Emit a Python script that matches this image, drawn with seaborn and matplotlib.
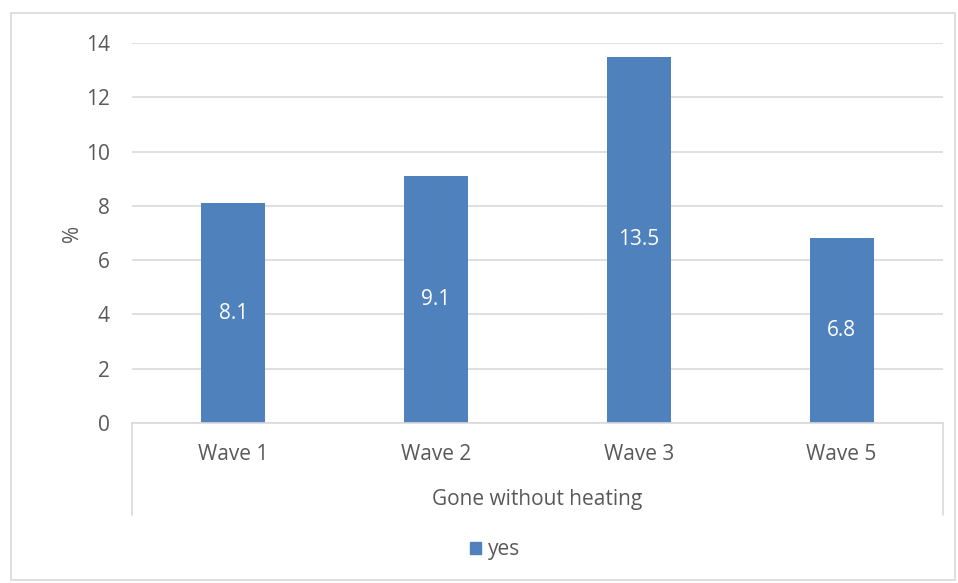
import matplotlib
matplotlib.use("Agg")
import matplotlib.pyplot as plt
import seaborn as sns
import pandas as pd
from matplotlib.patches import Rectangle
from matplotlib.lines import Line2D

categories = ["Wave 1", "Wave 2", "Wave 3", "Wave 5"]
values = [8.1, 9.1, 13.5, 6.8]
series_name = "yes"
group_label = "Gone without heating"
yticks = [0, 2, 4, 6, 8, 10, 12, 14]

sns.set_theme(style="white")
plt.rcParams['font.family'] = ['Open Sans', 'DejaVu Sans']

TXT = "#595959"
BLUE = "#4F81BD"
GRID = "#D9D9D9"
FS = 15

df = pd.DataFrame({"wave": categories, "pct": values})

fig = plt.figure(figsize=(9.58, 5.83), dpi=100)
ax = fig.add_axes([132/958, 1-423/583, (943-132)/958, (423-43)/583])

sns.barplot(data=df, x="wave", y="pct", color=BLUE, width=0.316, ax=ax,
            saturation=1, edgecolor="none")

ax.set_ylim(0, 14)
ax.set_yticks(yticks)
ax.set_xlim(-0.5, 3.5)
ax.yaxis.grid(True, color=GRID, linewidth=1.2)
ax.set_axisbelow(True)
for s in ["top", "right", "left"]:
    ax.spines[s].set_visible(False)
ax.spines["bottom"].set_color(GRID)
ax.spines["bottom"].set_linewidth(1.2)
ax.tick_params(axis="both", length=0, labelsize=FS, colors=TXT)
ax.tick_params(axis="y", pad=16)
ax.tick_params(axis="x", pad=15)
ax.set_xlabel("")
ax.set_ylabel("%", fontsize=FS, color=TXT, labelpad=2)

for i, v in enumerate(values):
    ax.text(i, v/2, f"{v:.1f}", ha="center", va="center", color="white", fontsize=FS)

# group separators below axis
for xf in [132/958, 943/958]:
    fig.add_artist(Line2D([xf, xf], [1-423/583, 1-515/583], color=GRID, lw=1.2,
                          transform=fig.transFigure))
fig.text((132+943)/2/958, 1-500/583, group_label, ha="center", va="center",
         fontsize=FS, color=TXT)

# legend
handle = Rectangle((0, 0), 1, 1, color=BLUE)
fig.legend([handle], [series_name], loc="center", bbox_to_anchor=(495/958, 1-550/583),
           frameon=False, fontsize=FS, handlelength=0.55, handleheight=0.55,
           handletextpad=0.3, labelcolor=TXT)

# outer border
fig.add_artist(Rectangle((11/958, 1-580/583), (955-11)/958, (580-13)/583,
                         transform=fig.transFigure, fill=False, edgecolor=GRID, lw=1.2))

fig.savefig("out.png", dpi=100)
